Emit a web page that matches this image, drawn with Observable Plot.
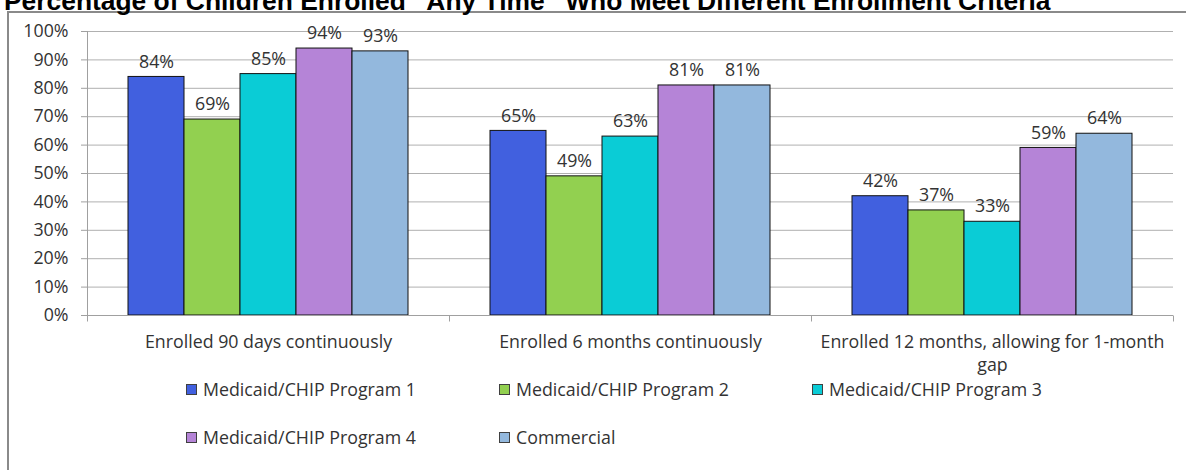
<!DOCTYPE html>
<html><head><meta charset="utf-8">
<script src="https://cdn.jsdelivr.net/npm/d3@7"></script>
<script src="https://cdn.jsdelivr.net/npm/@observablehq/plot@0.6"></script>
<style>
body{margin:0;background:#fff;width:1186px;height:470px;overflow:hidden;position:relative;}
#title{position:absolute;left:4px;top:-14px;line-height:26px;font:bold 26.4px "Liberation Sans",Arial,sans-serif;color:#000;white-space:nowrap;}
#frame{position:absolute;left:7px;top:11px;width:1200px;height:480px;border-left:2px solid #8a8a8a;border-top:2px solid #8a8a8a;}
#chart{position:absolute;left:0;top:0;}
#legend{position:absolute;left:0;top:0;width:1186px;height:470px;font:17.8px/18px "Open Sans",sans-serif;color:#333;}
.item{position:absolute;display:flex;align-items:center;white-space:nowrap;height:18px;transform:translateY(-50%);}
.sw{width:9px;height:9px;border:1px solid #404040;margin-right:6px;}
</style></head><body>
<div id="frame"></div>
<div id="title"></div>
<div id="chart"></div>
<div id="legend"></div>
<script>
const titleText = "Percentage of Children Enrolled \u201CAny Time\u201D Who Meet Different Enrollment Criteria";
const categories = ["Enrolled 90 days continuously", "Enrolled 6 months continuously", "Enrolled 12 months, allowing for 1-month gap"];
const categoryTickLabels = ["Enrolled 90 days continuously", "Enrolled 6 months continuously", "Enrolled 12 months, allowing for 1-month\ngap"];
const series = ["Medicaid/CHIP Program 1", "Medicaid/CHIP Program 2", "Medicaid/CHIP Program 3", "Medicaid/CHIP Program 4", "Commercial"];
const seriesColors = ["#4160DF", "#92D050", "#0ACCD6", "#B584D7", "#93B8DD"];
const program1 = [84, 65, 42];
const program2 = [69, 49, 37];
const program3 = [85, 63, 33];
const program4 = [94, 81, 59];
const commercial = [93, 81, 64];
const yTicks = [0, 10, 20, 30, 40, 50, 60, 70, 80, 90, 100];

const seriesValues = [program1, program2, program3, program4, commercial];
const rows = [];
categories.forEach((c, j) => series.forEach((s, i) => rows.push({category: c, series: s, value: seriesValues[i][j]})));

document.getElementById("title").textContent = titleText;

const fs = 17.8;
const axisColor = "#a0a0a0";
const chart = Plot.plot({
  width: 1186, height: 390,
  marginLeft: 86, marginRight: 13, marginTop: 31, marginBottom: 75,
  style: {fontFamily: "'Open Sans', sans-serif", fontSize: fs + "px", color: "#333", background: "transparent"},
  fx: {domain: categories, padding: 0, label: null},
  x: {domain: series, paddingInner: 0, paddingOuter: 0.732, axis: null},
  y: {domain: [0, 100], label: null, axis: null},
  color: {domain: series, range: seriesColors},
  marks: [
    Plot.gridY(yTicks, {stroke: "#b0b0b0", strokeOpacity: 1}),
    Plot.barY(rows, {fx: "category", x: "series", y: "value", fill: "series", stroke: "#111", strokeWidth: 1}),
    Plot.text(rows, {fx: "category", x: "series", y: "value", text: d => d.value + "%", dy: -15, fill: "#333", fontSize: fs}),
    Plot.axisY(yTicks, {tickFormat: d => d + "%", tickSize: 6, tickPadding: 13, stroke: axisColor, fill: "#333", label: null, fontSize: fs}),
    Plot.axisFx({anchor: "bottom", tickSize: 0, tickPadding: 17, label: null, lineHeight: 1.25, fontSize: fs, fill: "#333",
      tickFormat: d => categoryTickLabels[categories.indexOf(d)]}),
    Plot.frame({facet: "super", stroke: "none", render: (index, scales, values, dimensions) => {
      const {fx, y} = scales;
      const g = d3.create("svg:g").attr("stroke", axisColor).attr("stroke-width", 1).attr("fill", "none");
      const yb = Math.round(y(0)) + 0.5;
      const L = dimensions.marginLeft + 0.5, R = dimensions.width - dimensions.marginRight;
      g.append("line").attr("x1", L).attr("x2", L).attr("y1", y(100)).attr("y2", yb + 5);
      g.append("line").attr("x1", L).attr("x2", R).attr("y1", yb).attr("y2", yb);
      const edges = categories.map(c => fx(c)).concat([fx(categories[categories.length - 1]) + fx.bandwidth()]);
      edges.forEach(e => g.append("line").attr("x1", Math.round(e) + 0.5).attr("x2", Math.round(e) + 0.5).attr("y1", yb).attr("y2", yb + 6));
      return g.node();
    }})
  ]
});
document.getElementById("chart").appendChild(chart);

const legendPos = [[186, 389], [499, 389], [812, 389], [186, 437], [499, 437]];
const legend = document.getElementById("legend");
series.forEach((s, i) => {
  const it = document.createElement("div");
  it.className = "item";
  it.style.left = legendPos[i][0] + "px";
  it.style.top = legendPos[i][1] + "px";
  const sw = document.createElement("span");
  sw.className = "sw";
  sw.style.background = seriesColors[i];
  const t = document.createElement("span");
  t.textContent = s;
  it.appendChild(sw); it.appendChild(t);
  legend.appendChild(it);
});
</script>
</body></html>
